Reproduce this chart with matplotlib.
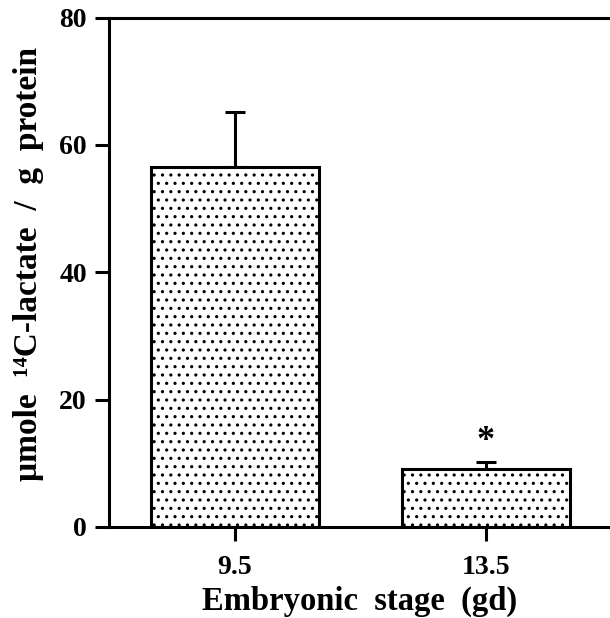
import matplotlib
matplotlib.use("Agg")
import matplotlib.pyplot as plt

# data
stages = ["9.5", "13.5"]
lactate = [56.5, 9.1]
sem = [8.6, 1.1]
signif = ["", "*"]
yticks = [0, 20, 40, 60, 80]

plt.rcParams['font.family'] = ['Liberation Serif', 'DejaVu Serif']
plt.rcParams['font.weight'] = 'bold'
plt.rcParams['hatch.linewidth'] = 1.1

fig = plt.figure(figsize=(6.10, 6.18), dpi=100)
ax = fig.add_axes([109 / 610, 1 - 527 / 618, 501 / 610, 509.5 / 618])

x = list(range(len(stages)))
ax.bar(x, lactate, width=0.67, color='white', edgecolor='black',
       linewidth=2.2, hatch='..', zorder=2)
for xi, v, e in zip(x, lactate, sem):
    ax.errorbar(xi, v + e / 2, yerr=e / 2, fmt='none', ecolor='black',
                elinewidth=2.2, capsize=7, capthick=2.2, zorder=1)
for xi, v, e, s in zip(x, lactate, sem, signif):
    if s:
        ax.text(xi, v + e + 0.6, s, ha='center', va='bottom',
                fontsize=26, fontweight='bold')

ax.set_xlim(-0.502, 1.494)
ax.set_ylim(0, 80)
ax.set_xticks(x)
ax.set_xticklabels(stages)
ax.set_yticks(yticks)

for side in ['left', 'bottom', 'top']:
    ax.spines[side].set_linewidth(2.2)
ax.spines['right'].set_visible(False)
ax.tick_params(direction='out', length=10, width=2.2, labelsize=20)
ax.tick_params(axis='x', pad=10)
ax.tick_params(axis='y', pad=6)

ax.set_xlabel("Embryonic  stage  (gd)", fontsize=23.5, fontweight='bold', labelpad=4)
ax.set_ylabel("\u03bcmole  \u00b9\u2074C-lactate  /  g  protein", fontsize=24,
              fontweight='bold')
ax.yaxis.set_label_coords(-0.13, 0.516)

fig.savefig("out.png", dpi=100)
